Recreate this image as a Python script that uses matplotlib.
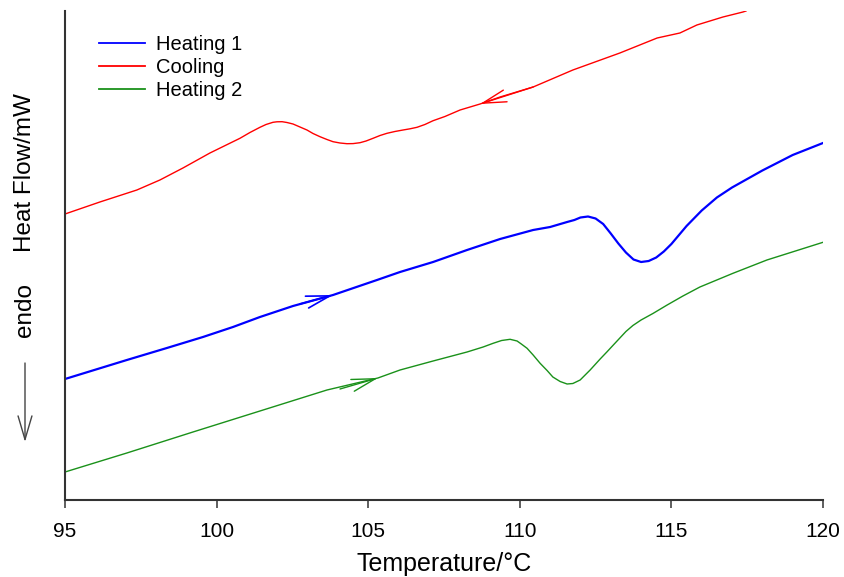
import matplotlib
matplotlib.use("Agg")
import matplotlib.pyplot as plt

plt.rcParams['font.family'] = ['Liberation Sans', 'DejaVu Sans']

# Heating 1 (blue)
t_heat1 = [95.00, 97.04, 98.36, 99.55, 100.54, 101.43, 102.52, 103.84, 105.29, 106.05,
           107.14, 108.26, 109.35, 110.44, 111.00, 111.56, 111.80, 112.00, 112.25, 112.50,
           112.75, 113.00, 113.25, 113.50, 113.75, 114.00, 114.25, 114.50, 114.75, 115.00,
           115.50, 116.00, 116.50, 117.00, 118.00, 119.00, 120.00]
hf_heat1 = [1.21, 1.40, 1.52, 1.63, 1.73, 1.83, 1.94, 2.05, 2.20, 2.28,
            2.38, 2.50, 2.61, 2.70, 2.73, 2.78, 2.80, 2.825, 2.835, 2.815,
            2.76, 2.665, 2.565, 2.475, 2.405, 2.38, 2.39, 2.425, 2.485, 2.56,
            2.74, 2.895, 3.025, 3.125, 3.295, 3.45, 3.57]

# Cooling (red)
t_cool = [95.00, 96.15, 97.37, 98.13, 98.89, 99.78, 100.77, 101.10, 101.43, 101.63,
          101.86, 101.99, 102.16, 102.32, 102.52, 102.75, 102.98, 103.18, 103.41, 103.64,
          103.84, 104.07, 104.30, 104.50, 104.73, 104.93, 105.16, 105.39, 105.62, 105.88,
          106.15, 106.38, 106.61, 106.87, 107.14, 107.53, 108.03, 108.69, 109.35, 110.44,
          111.75, 113.30, 114.53, 115.28, 115.84, 116.70, 117.36, 117.46]
hf_cool = [2.86, 2.98, 3.10, 3.20, 3.32, 3.47, 3.617, 3.675, 3.727, 3.755,
           3.777, 3.782, 3.783, 3.775, 3.76, 3.73, 3.70, 3.665, 3.633, 3.605,
           3.583, 3.57, 3.563, 3.564, 3.573, 3.59, 3.617, 3.645, 3.667, 3.685,
           3.70, 3.712, 3.727, 3.755, 3.793, 3.835, 3.90, 3.96, 4.03, 4.13,
           4.30, 4.47, 4.62, 4.67, 4.75, 4.83, 4.88, 4.89]

# Heating 2 (green)
t_heat2 = [95.00, 97.04, 99.22, 101.43, 103.64, 105.32, 106.05, 107.14, 108.26, 108.79,
           109.12, 109.40, 109.68, 109.91, 110.05, 110.24, 110.44, 110.67, 110.90, 111.09,
           111.33, 111.56, 111.75, 111.99, 112.32, 112.65, 112.88, 113.10, 113.30, 113.50,
           113.73, 114.00, 114.39, 114.86, 115.38, 115.94, 117.03, 118.15, 120.00]
hf_heat2 = [0.28, 0.47, 0.68, 0.89, 1.10, 1.22, 1.30, 1.39, 1.48, 1.53,
            1.567, 1.595, 1.607, 1.59, 1.56, 1.517, 1.45, 1.367, 1.295, 1.23,
            1.185, 1.16, 1.165, 1.20, 1.30, 1.41, 1.483, 1.555, 1.62, 1.685,
            1.745, 1.80, 1.865, 1.95, 2.04, 2.13, 2.267, 2.40, 2.577]

# direction arrows: (tail, tip) on each curve
arrow_heat1 = ((102.75, 1.96), (103.84, 2.05))
arrow_cool = ((110.44, 4.13), (108.69, 3.96))
arrow_heat2 = ((104.07, 1.11), (105.32, 1.22))

c_blue = '#0000ff'
c_red = '#ff0000'
c_green = '#1a911a'

fig = plt.figure(figsize=(8.44, 5.77), dpi=100)
ax = fig.add_axes([65/844, 1-500/577, 758/844, 489/577])

ax.plot(t_heat1, hf_heat1, color=c_blue, lw=1.6, label="Heating 1", solid_joinstyle='round')
ax.plot(t_cool, hf_cool, color=c_red, lw=1.0, label="Cooling", solid_joinstyle='round')
ax.plot(t_heat2, hf_heat2, color=c_green, lw=1.0, label="Heating 2", solid_joinstyle='round')

for (tail, tip), col, w in [(arrow_heat1, c_blue, 1.2), (arrow_cool, c_red, 1.0), (arrow_heat2, c_green, 1.0)]:
    ax.annotate("", xy=tip, xytext=tail,
                arrowprops=dict(arrowstyle="->,head_length=0.85,head_width=0.22",
                                color=col, lw=w, mutation_scale=20,
                                shrinkA=0, shrinkB=0))

ax.set_xlim(95, 120)
ax.set_ylim(0, 4.89)
ax.set_xticks([95, 100, 105, 110, 115, 120])
ax.set_yticks([])
ax.tick_params(axis='x', direction='out', length=6, width=1.1, color='#333333',
               labelsize=15, pad=10)
for s in ['top', 'right']:
    ax.spines[s].set_visible(False)
for s in ['left', 'bottom']:
    ax.spines[s].set_color('#333333')
    ax.spines[s].set_linewidth(1.5)

ax.set_xlabel("Temperature/°C", fontsize=18, labelpad=8)

leg = ax.legend(loc='upper left', bbox_to_anchor=(0.031, 0.971), frameon=False,
                fontsize=14.5, handlelength=2.3, handletextpad=0.55,
                labelspacing=0.2, borderpad=0)
for h in leg.get_lines():
    h.set_linewidth(1.3)

fig.text(25/844, 1-173/577, "Heat Flow/mW", rotation=90, fontsize=17.5,
         ha='center', va='center')
fig.text(25/844, 1-310/577, "endo", rotation=90, fontsize=17.5,
         ha='center', va='center')
fig.add_artist(matplotlib.patches.FancyArrowPatch(
    (25/844, 1-363/577), (25/844, 1-442/577), transform=fig.transFigure,
    arrowstyle="->,head_length=0.85,head_width=0.25", mutation_scale=20,
    color='#444444', lw=1.0, shrinkA=0, shrinkB=0))

fig.savefig("out.png", dpi=100)
